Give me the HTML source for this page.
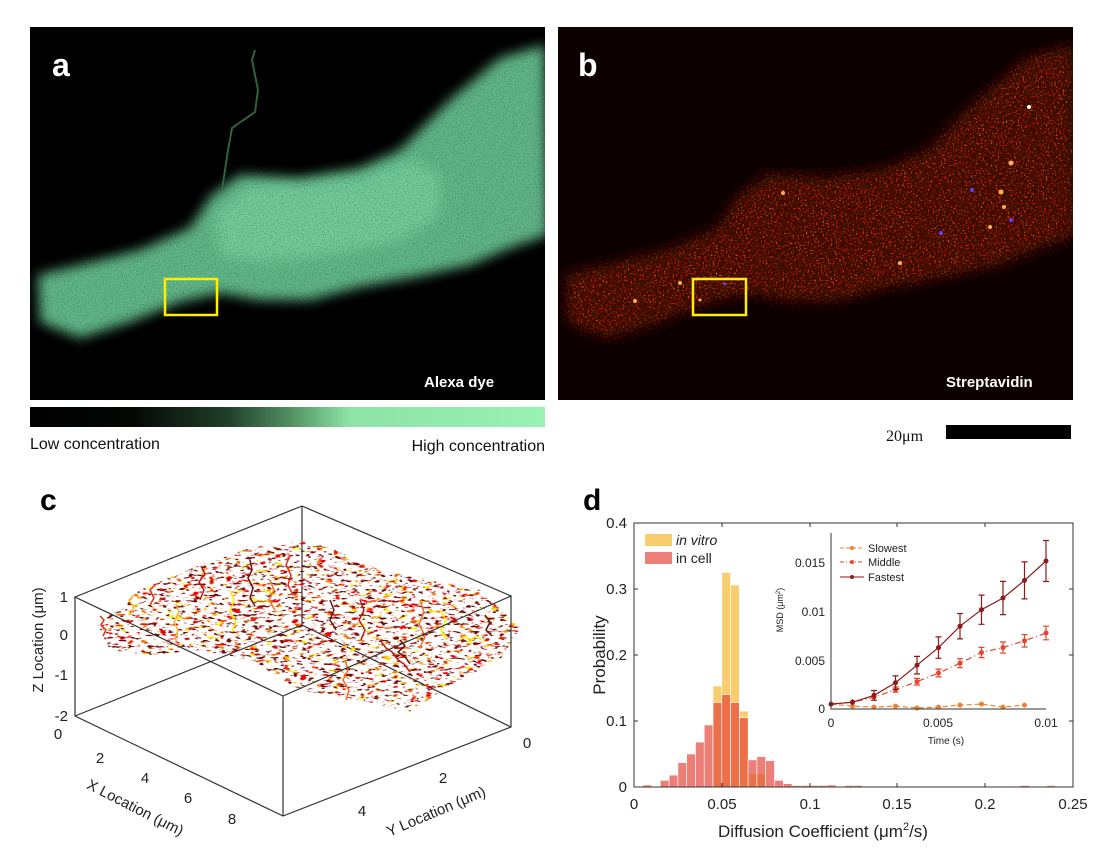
<!DOCTYPE html>
<html><head><meta charset="utf-8"><style>
html,body{margin:0;padding:0;background:#fff;}
svg{display:block;font-family:"Liberation Sans",sans-serif;}
</style></head><body>
<svg width="1100" height="859" viewBox="0 0 1100 859" xmlns="http://www.w3.org/2000/svg">
<defs>
<filter id="bl" x="-20%" y="-20%" width="140%" height="140%"><feGaussianBlur stdDeviation="6"/></filter>
<linearGradient id="cb" x1="0" x2="1" y1="0" y2="0">
<stop offset="0" stop-color="#000"/><stop offset="0.2" stop-color="#030805"/><stop offset="0.38" stop-color="#1f3d27"/><stop offset="0.5" stop-color="#4f8c60"/><stop offset="0.62" stop-color="#8de3a6"/><stop offset="1" stop-color="#98f2b2"/></linearGradient>
<clipPath id="ca"><rect x="30" y="27" width="515" height="373"/></clipPath>
<clipPath id="cbp"><rect x="558" y="27" width="515" height="373"/></clipPath>
<filter id="nz" x="0" y="0" width="1" height="1"><feTurbulence type="fractalNoise" baseFrequency="0.9" numOctaves="1" seed="4"/><feColorMatrix type="matrix" values="0 0 0 0 0  0 0 0 0 0  0 0 0 0 0  0 0 0 -2.2 1.2"/></filter>
<filter id="rd" x="-10%" y="-10%" width="120%" height="120%" color-interpolation-filters="sRGB">
<feGaussianBlur in="SourceAlpha" stdDeviation="7" result="m"/>
<feTurbulence type="fractalNoise" baseFrequency="0.6" numOctaves="1" seed="9" result="n"/>
<feColorMatrix in="n" type="matrix" values="0 0 0 0 0.9  0 1.2 0 0 -0.45  0 0 0 0 0.02  0 0 0 6 -3.3" result="c"/>
<feComposite in="c" in2="m" operator="in"/>
</filter>
<filter id="tr" x="0" y="0" width="1" height="1" color-interpolation-filters="sRGB">
<feTurbulence type="fractalNoise" baseFrequency="0.12 0.3" numOctaves="2" seed="5" result="n"/>
<feColorMatrix in="n" type="matrix" values="0 0 0 0 0.95  0 3 0 0 -1.1  0 0 0 0 0.05  0 0 0 9 -5.2" result="c"/>
<feComposite in="c" in2="SourceAlpha" operator="in"/>
</filter>
<filter id="tr2" x="0" y="0" width="1" height="1" color-interpolation-filters="sRGB">
<feTurbulence type="fractalNoise" baseFrequency="0.15 0.35" numOctaves="2" seed="12" result="n"/>
<feColorMatrix in="n" type="matrix" values="0 0 0 0 0.45  0 0 0 0 0.05  0 0 0 0 0.05  0 0 0 9 -5.4" result="c"/>
<feComposite in="c" in2="SourceAlpha" operator="in"/>
</filter>
</defs>
<!-- panel a -->
<rect x="30" y="27" width="515" height="373" fill="#000"/>
<g clip-path="url(#ca)">
<path filter="url(#bl)" fill="#62b98a" d="M38,275 L80,265 140,250 190,228 212,195 240,175 300,178 360,168 400,150 450,100 500,58 545,45 548,235 510,248 470,265 420,276 360,287 310,300 260,300 220,293 180,302 130,322 80,338 40,322Z"/>
<path filter="url(#bl)" fill="#80dcaa" d="M215,215 L250,185 300,185 360,178 410,160 440,175 440,215 400,240 330,255 260,262 220,255Z" opacity="0.6"/>
<polyline points="222,190 228,150 232,128 255,112 258,90 252,60 255,50" fill="none" stroke="#2f6a45" stroke-width="2"/>
<rect x="30" y="27" width="515" height="373" filter="url(#nz)" opacity="0.4"/>
</g>
<rect x="165" y="279" width="52" height="36" fill="none" stroke="#ffee00" stroke-width="2.5"/>
<text x="52" y="76" font-size="32" font-weight="bold" fill="#fff">a</text>
<text x="424" y="387" font-size="15" font-weight="bold" fill="#fff">Alexa dye</text>
<rect x="30" y="407" width="515" height="20" fill="url(#cb)"/>
<text x="30" y="449" font-size="16" fill="#111">Low concentration</text>
<text x="545" y="451" font-size="16" fill="#111" text-anchor="end">High concentration</text>
<!-- panel b -->
<rect x="558" y="27" width="515" height="373" fill="#0d0100"/>
<g clip-path="url(#cbp)">
<path filter="url(#bl)" fill="#3a0802" transform="translate(528,0)" d="M38,275 L80,265 140,250 190,228 212,195 240,175 300,178 360,168 400,150 450,100 500,58 545,45 548,235 510,248 470,265 420,276 360,287 310,300 260,300 220,293 180,302 130,322 80,338 40,322Z"/>
<path filter="url(#rd)" fill="#000" transform="translate(528,0)" d="M38,275 L80,265 140,250 190,228 212,195 240,175 300,178 360,168 400,150 450,100 500,58 545,45 548,235 510,248 470,265 420,276 360,287 310,300 260,300 220,293 180,302 130,322 80,338 40,322Z"/>
<g fill="#ffb040"><circle cx="635" cy="301" r="2"/><circle cx="680" cy="283" r="2"/><circle cx="700" cy="300" r="1.5"/><circle cx="783" cy="193" r="2"/><circle cx="1011" cy="163" r="2.5"/><circle cx="1001" cy="192" r="2.5"/><circle cx="1004" cy="207" r="2"/><circle cx="900" cy="263" r="2"/><circle cx="990" cy="227" r="2"/><circle cx="1029" cy="107" r="2" fill="#fff"/></g>
<g fill="#6040ff"><circle cx="972" cy="190" r="2"/><circle cx="1011" cy="220" r="2"/><circle cx="941" cy="233" r="2"/><circle cx="725" cy="284" r="1.5"/></g>
</g>
<rect x="693" y="279" width="53" height="36" fill="none" stroke="#ffee00" stroke-width="2.5"/>
<text x="578" y="76" font-size="32" font-weight="bold" fill="#fff">b</text>
<text x="946" y="387" font-size="15" font-weight="bold" fill="#fff">Streptavidin</text>
<text x="886" y="441" font-size="16" fill="#111" font-family="Liberation Serif,serif">20μm</text>
<rect x="946" y="425" width="125" height="14" fill="#000"/>
<!-- panel c -->
<text x="40" y="510" font-size="30" font-weight="bold" fill="#000">c</text>
<g stroke="#333" stroke-width="1.2" fill="none">
<polyline points="302,506 302,625"/>
<polyline points="75,716 302,625 511,727"/>
</g>
<path filter="url(#tr)" fill="#000" d="M98,625 L140,590 200,565 250,548 300,540 330,548 380,570 430,580 480,590 520,628 500,660 450,685 410,712 360,700 300,690 250,660 200,650 150,655 110,650Z"/>
<path filter="url(#tr2)" fill="#000" d="M98,625 L140,590 200,565 250,548 300,540 330,548 380,570 430,580 480,590 520,628 500,660 450,685 410,712 360,700 300,690 250,660 200,650 150,655 110,650Z"/>
<g fill="none" stroke-width="1.5" stroke-linejoin="round">
<polyline stroke="#e0301a" points="103,636 106,630 101,625 104,620 100,616"/>
<polyline stroke="#f7b52a" points="175,640 178,630 174,622 179,612 176,604"/>
<polyline stroke="#6b1010" points="250,560 252,570 248,578 253,588 250,598 255,606"/>
<polyline stroke="#e0301a" points="290,555 286,565 291,575 288,585 293,595"/>
<polyline stroke="#ffe600" points="230,590 234,600 230,612 236,622 232,632"/>
<polyline stroke="#c01810" points="380,640 386,648 392,652 398,660 404,664 410,672"/>
<polyline stroke="#6b1010" points="400,640 405,646 398,652 406,658 410,664"/>
<polyline stroke="#f07020" points="420,600 424,612 419,624 425,636 420,648"/>
<polyline stroke="#ffe600" points="460,640 466,636 470,642 476,636 482,640"/>
<polyline stroke="#f07020" points="345,660 348,670 343,680 349,690 346,700"/>
<polyline stroke="#6b1010" points="330,600 334,610 330,620 336,630"/>
<polyline stroke="#e0301a" points="150,605 154,598 150,590 156,584"/>
<polyline stroke="#f7b52a" points="130,615 134,608 129,600 135,594"/>
<polyline stroke="#c01810" points="200,600 204,590 199,582 205,574 201,566"/>
<polyline stroke="#ffe600" points="440,610 446,620 441,630 447,640"/>
<polyline stroke="#c01810" points="360,600 364,610 359,620 365,630 361,640"/>
<polyline stroke="#f07020" points="270,580 274,590 269,600 275,610"/>
<polyline stroke="#6b1010" points="485,615 490,622 486,630 492,636"/>
</g>
<g stroke="#333" stroke-width="1.2" fill="none">
<polygon points="75,597 302,506 511,596 283,696"/>
<polyline points="75,597 75,716 283,816 511,727 511,596"/>
<polyline points="283,696 283,816"/>
</g>
<g font-size="15" fill="#222" text-anchor="end">
<text x="68" y="602">1</text><text x="68" y="640">0</text><text x="68" y="680">-1</text><text x="68" y="721">-2</text>
</g>
<g font-size="15" fill="#222" text-anchor="middle">
<text x="58" y="739">0</text><text x="100" y="763">2</text><text x="145" y="783">4</text><text x="188" y="803">6</text><text x="232" y="824">8</text>
<text x="527" y="748">0</text><text x="443" y="783">2</text><text x="362" y="816">4</text>
</g>
<text transform="translate(43,640) rotate(-90)" font-size="15" fill="#222" text-anchor="middle">Z Location (μm)</text>
<text transform="translate(133,812) rotate(27)" font-size="15" fill="#222" text-anchor="middle">X Location (μm)</text>
<text transform="translate(438,816) rotate(-23)" font-size="15" fill="#222" text-anchor="middle">Y Location (μm)</text>
<!-- panel d -->
<text x="583" y="510" font-size="30" font-weight="bold" fill="#000">d</text>
<g fill="#f7cd6e" stroke="#fff" stroke-width="0.6">
<rect x="713.0" y="686.0" width="8.78" height="101.0"/>
<rect x="721.8" y="572.5" width="8.78" height="214.5"/>
<rect x="730.6" y="585.0" width="8.78" height="202.0"/>
<rect x="739.4" y="711.1" width="8.78" height="75.9"/>
<rect x="748.1" y="773.8" width="8.78" height="13.2"/>
<rect x="756.9" y="773.8" width="8.78" height="13.2"/>
</g>
<g fill="rgb(227,68,56)" fill-opacity="0.68" stroke="#fff" stroke-width="0.6">
<rect x="642.8" y="785" width="8.78" height="2"/>
<rect x="660.3" y="780.4" width="8.78" height="6.6"/>
<rect x="669.1" y="775.1" width="8.78" height="11.9"/>
<rect x="677.9" y="762.6" width="8.78" height="24.4"/>
<rect x="686.7" y="754" width="8.78" height="33"/>
<rect x="695.5" y="742.1" width="8.78" height="44.9"/>
<rect x="704.2" y="725" width="8.78" height="62"/>
<rect x="713.0" y="702.5" width="8.78" height="84.5"/>
<rect x="721.8" y="694.6" width="8.78" height="92.4"/>
<rect x="730.6" y="702.5" width="8.78" height="84.5"/>
<rect x="739.4" y="717.7" width="8.78" height="69.3"/>
<rect x="748.1" y="759.9" width="8.78" height="27.1"/>
<rect x="756.9" y="756.6" width="8.78" height="30.4"/>
<rect x="765.7" y="760.6" width="8.78" height="26.4"/>
<rect x="774.5" y="780.4" width="8.78" height="6.6"/>
<rect x="783.3" y="783.7" width="8.78" height="3.3"/>
<rect x="792.0" y="785.5" width="8.78" height="1.5"/>
<rect x="800.8" y="785.5" width="8.78" height="1.5"/>
<rect x="809.6" y="785.5" width="8.78" height="1.5"/>
<rect x="818.4" y="785.5" width="8.78" height="1.5"/>
<rect x="827.2" y="785" width="8.78" height="2"/>
<rect x="844.7" y="785.5" width="8.78" height="1.5"/>
<rect x="853.5" y="785.5" width="8.78" height="1.5"/>
<rect x="1020.3" y="785.5" width="8.78" height="1.5"/>
<rect x="1046.7" y="785.5" width="8.78" height="1.5"/>
</g>
<rect x="634" y="523" width="439" height="264" fill="none" stroke="#333" stroke-width="1"/>
<path stroke="#333" stroke-width="1" d="M722,787v-4M810,787v-4M897,787v-4M985,787v-4M722,523v4M810,523v4M897,523v4M985,523v4M634,721h4M634,655h4M634,589h4M1073,721h-4M1073,655h-4M1073,589h-4"/>
<g font-size="15" fill="#222" text-anchor="end">
<text x="627" y="792">0</text><text x="627" y="726">0.1</text><text x="627" y="660">0.2</text><text x="627" y="594">0.3</text><text x="627" y="528">0.4</text>
</g>
<g font-size="15" fill="#222" text-anchor="middle">
<text x="634" y="809">0</text><text x="722" y="809">0.05</text><text x="810" y="809">0.1</text><text x="897" y="809">0.15</text><text x="985" y="809">0.2</text><text x="1073" y="809">0.25</text>
</g>
<text transform="translate(605,655) rotate(-90)" font-size="17" fill="#222" text-anchor="middle">Probability</text>
<text x="823" y="837" font-size="17" fill="#222" text-anchor="middle">Diffusion Coefficient (μm<tspan font-size="11" dy="-7">2</tspan><tspan dy="7">/s)</tspan></text>
<rect x="645" y="534" width="27" height="12" fill="#f7cd6e"/>
<text x="676" y="545" font-size="14" font-style="italic" fill="#222">in vitro</text>
<rect x="645" y="552" width="27" height="12" fill="rgb(227,68,56)" opacity="0.68"/>
<text x="676" y="563" font-size="14" fill="#222">in cell</text>
<!-- inset -->
<rect x="831" y="533" width="230" height="176" fill="#fff"/>
<g fill="none" stroke="#f07f30" stroke-width="1.2">
<polyline stroke-dasharray="5,3" points="831,704.1 852.5,706.1 874,707.1 895.5,706.1 917,708 938.5,707.1 960,705.1 981.5,704.1 1003,707.1 1024.5,705.1"/>
</g>
<g fill="#f07f30"><circle cx="852.5" cy="706.1" r="2.5"/><circle cx="874" cy="707.1" r="2.5"/><circle cx="895.5" cy="706.1" r="2.5"/><circle cx="917" cy="708" r="2.5"/><circle cx="938.5" cy="707.1" r="2.5"/><circle cx="960" cy="705.1" r="2.5"/><circle cx="981.5" cy="704.1" r="2.5"/><circle cx="1003" cy="707.1" r="2.5"/><circle cx="1024.5" cy="705.1" r="2.5"/></g>
<g fill="none" stroke="#e8452c" stroke-width="1.2">
<polyline stroke-dasharray="6,3,1,3" points="831,704.1 852.5,702.2 874,697.3 895.5,689.5 917,681.7 938.5,673 960,663.2 981.5,652.5 1003,647.6 1024.5,640.8 1046,633"/>
<path d="M852.5,700.6V703.8M874,695.2V699.4M895.5,686.8V692.2M917,678.4V685M938.5,669.1V676.9M960,658.7V667.7M981.5,647.4V657.6M1003,642V653.2M1024.5,634.6V647M1046,626.2V639.8M935.5,669.1h6M935.5,676.9h6M957,658.7h6M957,667.7h6M978.5,647.4h6M978.5,657.6h6M1000,642h6M1000,653.2h6M1021.5,634.6h6M1021.5,647h6M1043,626.2h6M1043,639.8h6M914,678.4h6M914,685h6M892.5,686.8h6M892.5,692.2h6"/>
</g>
<g fill="#e8452c"><circle cx="852.5" cy="702.2" r="2.5"/><circle cx="874" cy="697.3" r="2.5"/><circle cx="895.5" cy="689.5" r="2.5"/><circle cx="917" cy="681.7" r="2.5"/><circle cx="938.5" cy="673" r="2.5"/><circle cx="960" cy="663.2" r="2.5"/><circle cx="981.5" cy="652.5" r="2.5"/><circle cx="1003" cy="647.6" r="2.5"/><circle cx="1024.5" cy="640.8" r="2.5"/><circle cx="1046" cy="633" r="2.5"/></g>
<g fill="none" stroke="#8b1a1a" stroke-width="1.2">
<polyline points="831,704.1 852.5,702.2 874,695.4 895.5,682.7 917,665.2 938.5,647.6 960,626.2 981.5,609.7 1003,598 1024.5,580.4 1046,561"/>
<path d="M852.5,699.3V705.1M874,690.5V700.3M895.5,675.9V689.5M917,656.4V674M938.5,636.9V658.3M960,613.5V638.9M981.5,595.1V624.3M1003,581.4V614.6M1024.5,561.9V598.9M1046,540.5V581.5M871,690.5h6M871,700.3h6M892.5,675.9h6M892.5,689.5h6M914,656.4h6M914,674h6M935.5,636.9h6M935.5,658.3h6M957,613.5h6M957,638.9h6M978.5,595.1h6M978.5,624.3h6M1000,581.4h6M1000,614.6h6M1021.5,561.9h6M1021.5,598.9h6M1043,540.5h6M1043,581.5h6"/>
</g>
<g fill="#8b1a1a"><circle cx="831" cy="704.1" r="2.5"/><circle cx="852.5" cy="702.2" r="2.5"/><circle cx="874" cy="695.4" r="2.5"/><circle cx="895.5" cy="682.7" r="2.5"/><circle cx="917" cy="665.2" r="2.5"/><circle cx="938.5" cy="647.6" r="2.5"/><circle cx="960" cy="626.2" r="2.5"/><circle cx="981.5" cy="609.7" r="2.5"/><circle cx="1003" cy="598" r="2.5"/><circle cx="1024.5" cy="580.4" r="2.5"/><circle cx="1046" cy="561" r="2.5"/></g>
<polyline points="831,533 831,709 1046,709" fill="none" stroke="#333" stroke-width="1"/>
<g font-size="12" fill="#222" text-anchor="end">
<text x="825" y="713">0</text><text x="825" y="665">0.005</text><text x="825" y="616">0.01</text><text x="825" y="567">0.015</text>
</g>
<g font-size="12" fill="#222" text-anchor="middle">
<text x="831" y="727">0</text><text x="938" y="727">0.005</text><text x="1046" y="727">0.01</text>
</g>
<text x="946" y="744" font-size="10" fill="#222" text-anchor="middle">Time (s)</text>
<text transform="translate(783,610) rotate(-90)" font-size="9" fill="#222" text-anchor="middle">MSD (μm<tspan font-size="6" dy="-3">2</tspan><tspan dy="3">)</tspan></text>
<g font-size="11" fill="#222">
<line x1="840" y1="548" x2="864" y2="548" stroke="#f07f30" stroke-dasharray="4,2"/><circle cx="852" cy="548" r="2" fill="#f07f30"/><text x="868" y="552">Slowest</text>
<line x1="840" y1="562" x2="864" y2="562" stroke="#e8452c" stroke-dasharray="4,2,1,2"/><circle cx="852" cy="562" r="2" fill="#e8452c"/><text x="868" y="566">Middle</text>
<line x1="840" y1="577" x2="864" y2="577" stroke="#8b1a1a"/><circle cx="852" cy="577" r="2" fill="#8b1a1a"/><text x="868" y="581">Fastest</text>
</g>
</svg>
</body></html>
